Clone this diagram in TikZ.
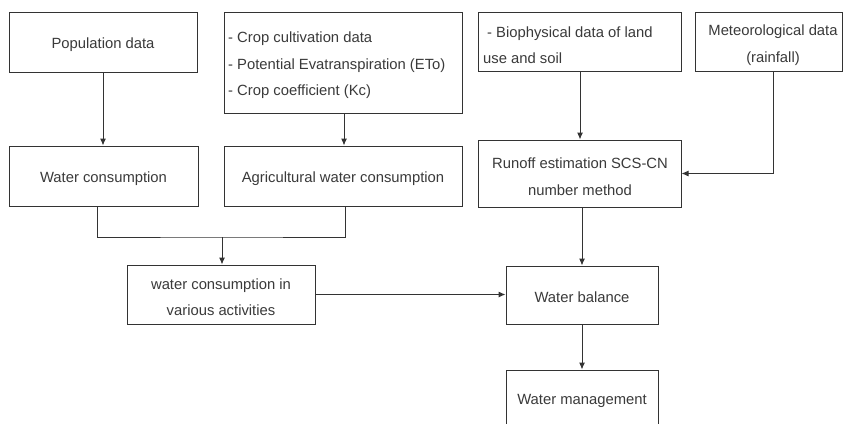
\documentclass[tikz,border=0pt]{standalone}
\usepackage{fontspec}
\setmainfont{Liberation Sans}
\usetikzlibrary{arrows.meta,calc}
\definecolor{linec}{HTML}{333333}
\definecolor{textc}{HTML}{3A3A3A}
\begin{document}
\begin{tikzpicture}[x=1pt,y=-1pt,
  box/.style={draw=linec, line width=1pt, rectangle, inner sep=0pt},
  lbl/.style={inner sep=0pt, font=\fontsize{14.8}{26.5}\selectfont, text=textc, align=center},
  conn/.style={draw=linec, line width=1pt},
  arr/.style={conn, -{Latex[length=7pt,width=6pt]}}]
\useasboundingbox (0,0) rectangle (843,423);
\clip (0,0) rectangle (843,423);
\fill[white] (0,0) rectangle (843,423);
% boxes
\node[box, minimum width=188pt, minimum height=60pt] (pop) at (103,42) {};
\node[box, minimum width=238pt, minimum height=101pt] (crop) at (343,62.5) {};
\node[box, minimum width=203pt, minimum height=59pt] (bio) at (579.5,41.5) {};
\node[box, minimum width=147pt, minimum height=59pt] (met) at (768.5,41.5) {};
\node[box, minimum width=189pt, minimum height=60pt] (wc) at (103.5,176) {};
\node[box, minimum width=238pt, minimum height=60pt] (agr) at (343,176) {};
\node[box, minimum width=203pt, minimum height=67pt] (run) at (579.5,173.5) {};
\node[box, minimum width=188pt, minimum height=59pt] (act) at (221,294.5) {};
\node[box, minimum width=152pt, minimum height=58pt] (bal) at (582,295) {};
\node[box, minimum width=152pt, minimum height=60pt] (mgmt) at (582,400) {};
% texts
\node[lbl] (popt) at (103,45) {Population data};
\node[lbl, anchor=west, align=left] (cropt) at (228,65.5)
  {- Crop cultivation data\\- Potential Evatranspiration (ETo)\\- Crop coefficient (Kc)};
\node[lbl, anchor=west, align=left] (biot) at (483,45)
  {\hspace{4pt}- Biophysical data of land\\use and soil};
\node[lbl] (metl) at (773,45) {Meteorological data\\(rainfall)};
\node[lbl] (wct) at (103.5,179) {Water consumption};
\node[lbl] (agrt) at (343,179) {Agricultural water consumption};
\node[lbl] (runt) at (580,176.5) {Runoff estimation SCS-CN\\number method};
\node[lbl] (actt) at (221,297) {water consumption in\\various activities};
\node[lbl] (balt) at (582,297.5) {Water balance};
\node[lbl] (mgmtt) at (582,401) {Water management};
% connectors
\draw[arr] (pop.south) -- (pop.south |- wc.north);
\draw[arr] ([xshift=1pt]crop.south) -- ([xshift=1pt]agr.north);
\draw[arr] ([xshift=0.5pt]bio.south) -- ([xshift=0.5pt]run.north);
\draw[arr] ([xshift=4.5pt]met.south) |- (run.east);
\coordinate (mrg) at (222,237);
\draw[conn] ([xshift=-6.5pt]wc.south) |- (mrg) -| ([xshift=2pt]agr.south);
\draw[arr] (mrg) -- (mrg |- act.north);
\draw[arr] (act.east) -- (act.east -| bal.west);
\draw[arr] (bal.north |- run.south) -- (bal.north);
\draw[arr] (bal.south) -- (mgmt.north);
\end{tikzpicture}
\end{document}
